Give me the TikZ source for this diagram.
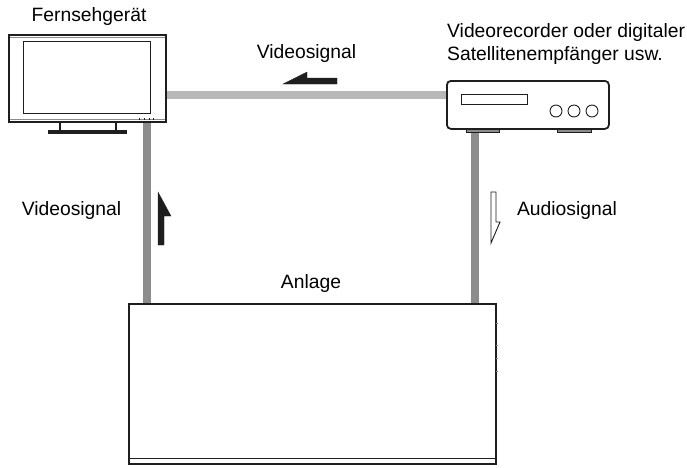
\documentclass[tikz,border=0pt]{standalone}
\usepackage{fontspec}
\setmainfont{Liberation Sans}

\definecolor{linklight}{HTML}{B8B8B8}
\definecolor{linkdark}{HTML}{8C8C8C}
\definecolor{edgeblack}{HTML}{1E1E1E}

\tikzset{
	every node/.style={font=\fontsize{19.3}{23}\selectfont, text=black, inner sep=0pt},
	unit/.style={draw=edgeblack, line width=1.8pt, fill=white, anchor=north west},
	foot/.style={draw=edgeblack, line width=1.2pt, fill=linkdark, anchor=north west},
	thin box/.style={draw=edgeblack, line width=0.9pt, fill=white, anchor=north west},
	link/.style={line width=8pt},
	arrow solid/.style={fill=edgeblack, draw=edgeblack, line width=0.3pt},
	arrow open/.style={fill=white, draw=edgeblack, line width=0.9pt},
	label/.style={anchor=base}
}

\begin{document}
\begin{tikzpicture}[x=1pt,y=-1pt]
	\useasboundingbox (0,0) rectangle (687,467);
	\fill[white] (0,0) rectangle (687,467);

	\coordinate (sigtop) at (0,95);
	\coordinate (sigleft) at (147,0);
	\coordinate (sigright) at (475,0);

	% feet under the two sets
	\node(tvfoot) [unit, fill=white, minimum width=56pt, minimum height=12pt] at (59,120) {};
	\node(tvbase) [fill=edgeblack, anchor=north west, minimum width=79pt, minimum height=4pt] at (47.5,130) {};
	\node(recfootl) [foot, minimum width=33pt, minimum height=6pt] at (466,125.5) {};
	\node(recfootr) [foot, minimum width=34pt, minimum height=6pt] at (557,125.5) {};

	% the sets
	\node(tv) [unit, minimum width=157pt, minimum height=87pt] at (8,34) {};
	\node(screen) [thin box, minimum width=127pt, minimum height=72pt] at (23,41) {};
	\node(rec) [unit, rounded corners=4pt, minimum width=162pt, minimum height=48pt] at (446,80) {};
	\node(slot) [thin box, minimum width=66pt, minimum height=10pt] at (461,94) {};
	\foreach \x/\n in {556/1,574/2,592/3}
		\node(knob\n) [draw=edgeblack, line width=0.9pt, circle, minimum size=12pt] at (\x,111) {};
	\node(anlage) [unit, minimum width=367pt, minimum height=160pt] at (128,303) {};

	% grey edges inside the frames
	\draw[linkdark, line width=1pt] ([xshift=2pt,yshift=-3pt]tv.north west) -- ([xshift=-2pt,yshift=-3pt]tv.north east);
	\draw[linkdark, line width=1pt] ([xshift=2pt,yshift=3pt]tv.south west) -- ([xshift=-2pt,yshift=3pt]tv.south east);
	\draw[edgeblack, line width=1pt] ([yshift=6pt]anlage.south west) -- ([yshift=6pt]anlage.south east);
	\foreach \x in {139,144,149,153}
		\draw[edgeblack, line width=1pt] (\x,118) -- (\x,120);
	\foreach \y in {323,345,358,371}
		\draw[linkdark, line width=1pt] (496,\y) -- (498,\y);

	% signal lines
	\draw[link, linklight] (tv.east |- sigtop) -- (rec.west |- sigtop);
	\draw[link, linkdark] (tv.south -| sigleft) -- (anlage.north -| sigleft);
	\draw[link, linkdark] (recfootl.south -| sigright) -- (anlage.north -| sigright);

	% direction arrows
	\draw[arrow solid] (283,84) -- (307,72) -- (307,78) -- (337,78) -- (337,84) -- cycle;
	\draw[arrow solid] (158,192) -- (171,216) -- (164,216) -- (164,245) -- (158,245) -- cycle;
	\draw[arrow open] (491,192) -- (496,192) -- (496,222) -- (500,222) -- (491,243) -- cycle;

	% labels
	\node(tvlabel) [label] at (89,21) {Fernsehgerät};
	\node(reclabel) [anchor=base west, align=left] at (447,60) {Videorecorder oder digitaler\\Satellitenempfänger usw.};
	\node(toplabel) [label] at (306.5,58) {Videosignal};
	\node(leftlabel) [label] at (71.5,215) {Videosignal};
	\node(rightlabel) [label] at (567,215) {Audiosignal};
	\node(anlagelabel) [label] at (311,288) {Anlage};
\end{tikzpicture}
\end{document}
